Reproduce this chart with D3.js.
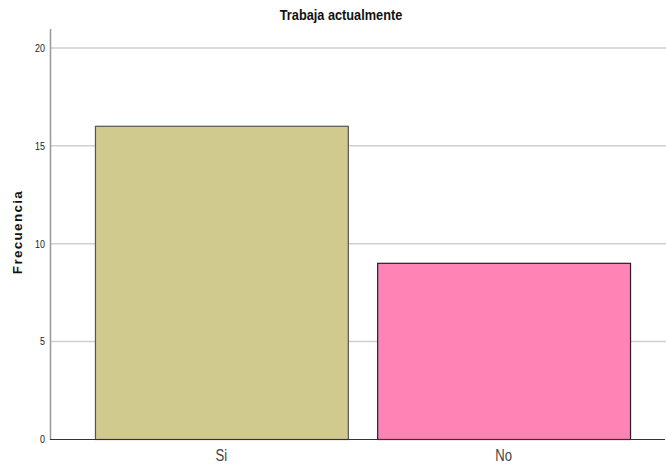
<!DOCTYPE html>
<html><head><meta charset="utf-8">
<script src="https://cdn.jsdelivr.net/npm/d3@7"></script>
<style>
body{margin:0;background:#fff;}
svg{display:block;}
</style></head>
<body>
<svg id="c" width="666" height="465"></svg>
<script>
const categories = ["Si", "No"];
const values = [16, 9];
const colors = ["#D0CA8E", "#FF83B4"];
const strokes = ["#555555", "#222222"];
const yTicks = [0, 5, 10, 15, 20];
const title = "Trabaja actualmente";
const yLabel = "Frecuencia";

const svg = d3.select("#c");
const narrow = "'Liberation Sans',Arial,sans-serif";

const y = d3.scaleLinear().domain([0, 21]).range([439.5, 28.4]);
const x = d3.scaleBand().domain(categories).range([80, 645]).paddingInner(0.104).paddingOuter(0.053);

// gridlines
svg.append("g").selectAll("line").data(yTicks.filter(d => d > 0)).join("line")
  .attr("x1", 50).attr("x2", 666)
  .attr("y1", d => y(d)).attr("y2", d => y(d))
  .attr("stroke", "#CFCFCF").attr("stroke-width", 1.5);

// bars
svg.append("g").selectAll("rect").data(values).join("rect")
  .attr("x", (d, i) => x(categories[i]) + 0.5)
  .attr("y", d => y(d))
  .attr("width", x.bandwidth())
  .attr("height", d => y(0) - y(d))
  .attr("fill", (d, i) => colors[i])
  .attr("stroke", (d, i) => strokes[i])
  .attr("stroke-width", 1.2);

// y axis
const yAxis = d3.axisLeft(y).tickValues(yTicks).tickSize(0).tickPadding(6);
const gy = svg.append("g").attr("transform", "translate(50,0)").call(yAxis);
gy.select(".domain").attr("stroke", "#999").attr("stroke-width", 1.5);
gy.selectAll("text").attr("font-family", narrow).attr("font-size", 10.5).attr("fill", "#222")
  .attr("transform", "scale(0.85,1)");

// x axis
const xAxis = d3.axisBottom(x).tickSize(0).tickPadding(10);
const gx = svg.append("g").attr("transform", `translate(0,${y(0)})`).call(xAxis);
gx.select(".domain").remove();
gx.append("line").attr("x1", 50).attr("x2", 665).attr("y1", 0).attr("y2", 0)
  .attr("stroke", "#333").attr("stroke-width", 1.2);
gx.selectAll("text").attr("font-family", narrow).attr("font-size", 16).attr("fill", "#444")
  .attr("transform", "scale(0.82,1)");

// title
svg.append("g").attr("transform", "translate(341,20) scale(0.85,1)")
  .append("text").attr("text-anchor", "middle")
  .attr("font-family", narrow).attr("font-weight", "bold").attr("font-size", 15)
  .attr("fill", "#111").text(title);

// y label
svg.append("text").attr("transform", "translate(22,232) rotate(-90)")
  .attr("text-anchor", "middle")
  .attr("font-family", "'Liberation Sans',Arial,sans-serif").attr("font-weight", "bold")
  .attr("font-size", 13.5).attr("letter-spacing", 1.3)
  .attr("fill", "#111").text(yLabel);
</script>
</body></html>
